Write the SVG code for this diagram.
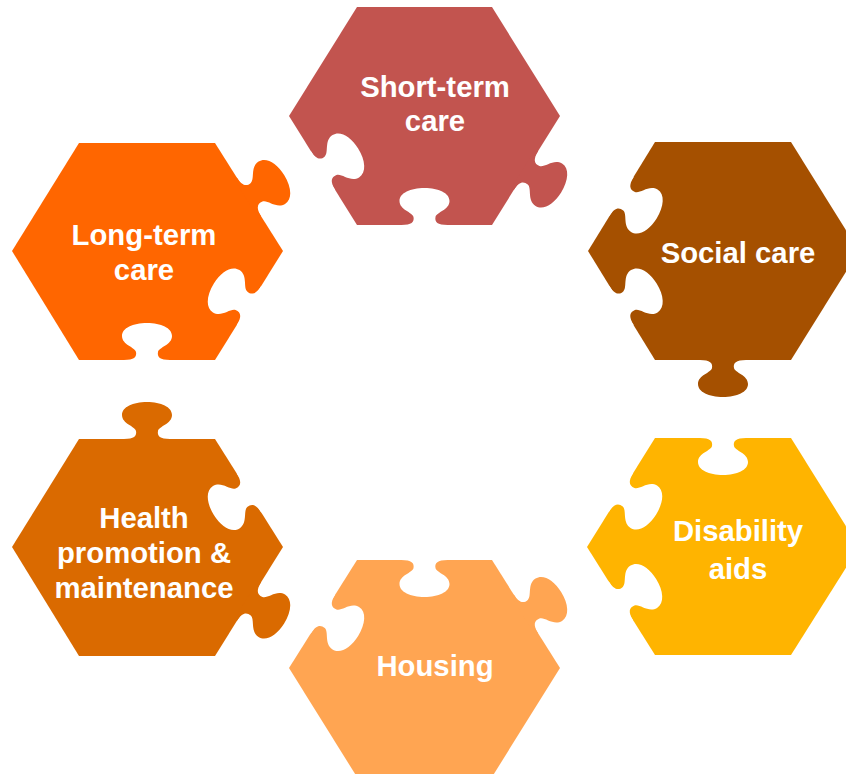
<svg xmlns="http://www.w3.org/2000/svg" xmlns:xlink="http://www.w3.org/1999/xlink" width="846" height="774" viewBox="0 0 846 774">
<style>
.lbl{font-family:"Liberation Sans",Arial,sans-serif;font-weight:bold;font-size:29.3px;fill:#ffffff;text-anchor:middle}
</style>
<defs>
<path id="knob" d="M -23 3 L -23 0 C -13 0 -10 -3 -11 -8 C -12 -13 -25 -15 -25 -24 C -25 -32 -14 -37 0 -37 C 14 -37 25 -32 25 -24 C 25 -15 12 -13 11 -8 C 10 -3 13 0 23 0 L 23 3 Z"/>
<mask id="mS" maskUnits="userSpaceOnUse" x="0" y="0" width="846" height="774">
<rect width="846" height="774" fill="#fff"/>
<use xlink:href="#knob" fill="#000" transform="translate(323,170.5) rotate(58) scale(1,1.12)"/>
<use xlink:href="#knob" fill="#000" transform="translate(424.5,225) rotate(0)"/>
</mask>
<mask id="mL" maskUnits="userSpaceOnUse" x="0" y="0" width="846" height="774">
<rect width="846" height="774" fill="#fff"/>
<use xlink:href="#knob" fill="#000" transform="translate(249,305.5) rotate(-58) scale(1,1.12)"/>
<use xlink:href="#knob" fill="#000" transform="translate(147,360) rotate(0)"/>
</mask>
<mask id="mSo" maskUnits="userSpaceOnUse" x="0" y="0" width="846" height="774">
<rect width="846" height="774" fill="#fff"/>
<use xlink:href="#knob" fill="#000" transform="translate(621.5,196.5) rotate(122) scale(1,1.12)"/>
<use xlink:href="#knob" fill="#000" transform="translate(621.5,305.5) rotate(58) scale(1,1.12)"/>
</mask>
<mask id="mD" maskUnits="userSpaceOnUse" x="0" y="0" width="846" height="774">
<rect width="846" height="774" fill="#fff"/>
<use xlink:href="#knob" fill="#000" transform="translate(723,438) rotate(180)"/>
<use xlink:href="#knob" fill="#000" transform="translate(621,492.5) rotate(122) scale(1,1.12)"/>
<use xlink:href="#knob" fill="#000" transform="translate(621,601) rotate(58) scale(1,1.12)"/>
</mask>
<mask id="mH" maskUnits="userSpaceOnUse" x="0" y="0" width="846" height="774">
<rect width="846" height="774" fill="#fff"/>
<use xlink:href="#knob" fill="#000" transform="translate(249,493) rotate(-122) scale(1,1.12)"/>
</mask>
<mask id="mHo" maskUnits="userSpaceOnUse" x="0" y="0" width="846" height="774">
<rect width="846" height="774" fill="#fff"/>
<use xlink:href="#knob" fill="#000" transform="translate(424.5,560) rotate(180)"/>
<use xlink:href="#knob" fill="#000" transform="translate(323,614) rotate(122) scale(1,1.12)"/>
</mask>
</defs>
<g id="connectors"></g>
<g id="short-term-care">
<g fill="#C2544F" mask="url(#mS)">
<polygon points="289,116 357,7 492,7 560,116 492,225 357,225"/>
<use xlink:href="#knob" transform="translate(526,170.5) rotate(122) scale(1,1.12)"/>
</g>
<text class="lbl" x="435" y="97">Short-term</text>
<text class="lbl" x="435" y="131">care</text>
</g>
<g id="long-term-care">
<g fill="#FF6600" mask="url(#mL)">
<polygon points="12,251 79,143 215,143 283,251 215,360 79,360"/>
<use xlink:href="#knob" transform="translate(249,197) rotate(58) scale(1,1.12)"/>
</g>
<text class="lbl" x="144" y="245">Long-term</text>
<text class="lbl" x="144" y="280">care</text>
</g>
<g id="social-care">
<g fill="#A55000" mask="url(#mSo)">
<polygon points="588,251 655,142 791,142 859,251 791,360 655,360"/>
<use xlink:href="#knob" transform="translate(723,360) rotate(180)"/>
</g>
<text class="lbl" x="738" y="263">Social care</text>
</g>
<g id="disability-aids">
<g fill="#FFB400" mask="url(#mD)">
<polygon points="587,547 655,438 791,438 859,547 791,655 655,655"/>
</g>
<text class="lbl" x="738" y="541">Disability</text>
<text class="lbl" x="738" y="579">aids</text>
</g>
<g id="health-promotion">
<g fill="#DA6A00" mask="url(#mH)">
<polygon points="12,547 79,439 215,439 283,547 215,656 79,656"/>
<use xlink:href="#knob" transform="translate(147,439) rotate(0)"/>
<use xlink:href="#knob" transform="translate(249,601.5) rotate(122) scale(1,1.12)"/>
</g>
<text class="lbl" x="144" y="528">Health</text>
<text class="lbl" x="144" y="563">promotion &amp;</text>
<text class="lbl" x="144" y="598">maintenance</text>
</g>
<g id="housing">
<g fill="#FFA552" mask="url(#mHo)">
<polygon points="289,668 357,560 492,560 560,668 492,777 357,777"/>
<use xlink:href="#knob" transform="translate(526,614) rotate(58) scale(1,1.12)"/>
</g>
<text class="lbl" x="435" y="676">Housing</text>
</g>
</svg>
